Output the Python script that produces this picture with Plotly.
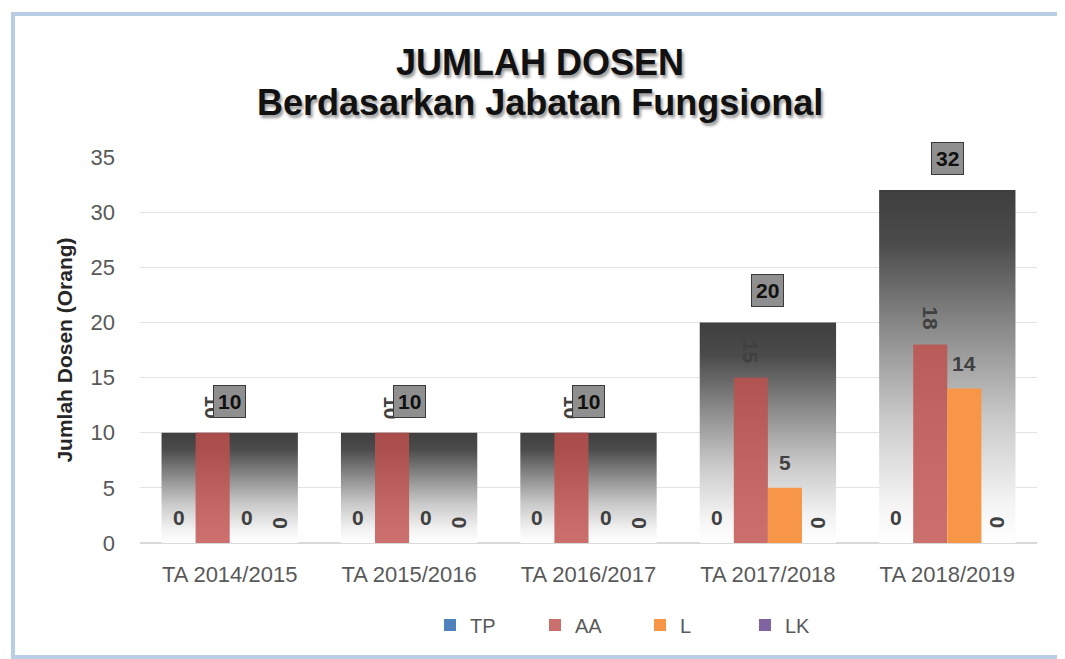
import plotly.graph_objects as go

# data
categories = ["TA 2014/2015", "TA 2015/2016", "TA 2016/2017", "TA 2017/2018", "TA 2018/2019"]
totals = [10, 10, 10, 20, 32]
tp = [0, 0, 0, 0, 0]
aa = [10, 10, 10, 15, 18]
lect = [0, 0, 0, 5, 14]
lk = [0, 0, 0, 0, 0]

series = [
    ("TP", tp, "#4f81bd", 0, 1.0),
    ("AA", aa, "#c0504d", 90, 0.82),
    ("L", lect, "#f79646", 0, 1.0),
    ("LK", lk, "#8064a2", 90, 1.0),
]

FONT = "Liberation Sans, Arial, sans-serif"
O = 8  # page body margin
W, H = 1065 - O, 659 - O
ML, MR, MT, MB = 132, 28, 149, 116
PW, PH = W - ML - MR, H - MT - MB


def px_x(p):
    return (p - O - ML) / PW


def px_y(p):
    return (H - MB - (p - O)) / PH


group_w = 0.76
sub_w = group_w / len(series)
idx = list(range(len(categories)))

fig = go.Figure()

# total bars: gradient filled rectangles behind the series bars
grad = [[0, "#ffffff"], [0.12, "#f3f3f3"], [0.35, "#cacaca"],
        [0.6, "#8c8c8c"], [0.85, "#4b4b4b"], [1, "#3f3f3f"]]
for i, t in enumerate(totals):
    x0, x1 = i - group_w / 2, i + group_w / 2
    fig.add_trace(go.Scatter(
        x=[x0, x1, x1, x0, x0], y=[0, 0, t, t, 0],
        mode="lines", line=dict(width=0), fill="toself",
        fillgradient=dict(type="vertical", colorscale=grad),
        showlegend=False, hoverinfo="skip",
    ))

annotations = []
for k, (name, vals, color, angle, op) in enumerate(series):
    off = -group_w / 2 + k * sub_w
    fig.add_trace(go.Bar(
        x=idx, y=vals, name=name, xaxis="x2", yaxis="y2",
        width=sub_w, offset=off, marker=dict(color=color, line=dict(width=0)),
        opacity=op,
    ))
    for i, v in enumerate(vals):
        annotations.append(dict(
            x=i + off + sub_w / 2, y=v, xref="x", yref="y",
            text=f"<b>{v}</b>", showarrow=False, textangle=angle,
            yanchor="bottom", yshift=12,
            font=dict(family=FONT, size=21, color="#404040"),
        ))

for i, t in enumerate(totals):
    annotations.append(dict(
        x=i, y=t, xref="x", yref="y", text=f"<b>{t}</b>", showarrow=False,
        yanchor="bottom", yshift=15,
        font=dict(family=FONT, size=21, color="#111111"),
        bgcolor="#8f8f8f", bordercolor="#3a3a3a", borderwidth=1, borderpad=4,
    ))

title_font = dict(family=FONT, size=36, color="#111111",
                  shadow="2px 3px 3px rgba(0,0,0,0.4)")
for text, py in [("JUMLAH DOSEN", 62), ("Berdasarkan Jabatan Fungsional", 103)]:
    annotations.append(dict(
        x=px_x(540), y=px_y(py), xref="paper", yref="paper",
        text=f"<b>{text}</b>", showarrow=False,
        xanchor="center", yanchor="middle", font=title_font,
    ))

fig.update_layout(
    width=W, height=H,
    margin=dict(l=ML, r=MR, t=MT, b=MB),
    paper_bgcolor="white", plot_bgcolor="white",
    barmode="overlay",
    xaxis=dict(
        range=[-0.5, len(categories) - 0.5],
        tickvals=idx, ticktext=categories,
        showgrid=False, zeroline=False, showline=False,
        tickfont=dict(family=FONT, size=22, color="#595959"),
        ticks="", ticklabelstandoff=16,
    ),
    yaxis=dict(
        range=[0, 35], dtick=5, showgrid=True, gridcolor="#e3e3e3",
        zeroline=True, zerolinecolor="#d9d9d9", showline=False,
        tickfont=dict(family=FONT, size=22, color="#595959"),
        ticklabelstandoff=24,
        title=dict(text="<b>Jumlah Dosen (Orang)</b>", standoff=12,
                   font=dict(family=FONT, size=21, color="#262626")),
    ),
    xaxis2=dict(overlaying="x", matches="x", visible=False),
    yaxis2=dict(overlaying="y", matches="y", visible=False),
    legend=dict(
        orientation="h", x=px_x(640), xanchor="center",
        y=px_y(625), yanchor="middle",
        font=dict(family=FONT, size=20, color="#595959"),
        entrywidth=60, entrywidthmode="pixels", itemwidth=30,
    ),
    annotations=annotations,
    shapes=[dict(type="rect", xref="paper", yref="paper",
                 x0=px_x(13), x1=px_x(1062), y0=px_y(657), y1=px_y(14),
                 line=dict(color="#b9cde5", width=4), layer="below")],
)

fig.write_html("out.html")
